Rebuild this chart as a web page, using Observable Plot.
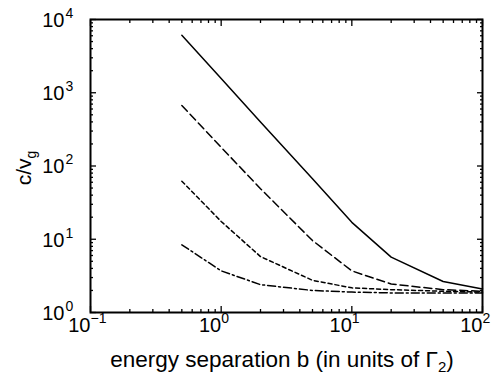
<!DOCTYPE html>
<html><head><meta charset="utf-8">
<script src="https://cdn.jsdelivr.net/npm/d3@7"></script>
<script src="https://cdn.jsdelivr.net/npm/@observablehq/plot@0.6"></script>
<style>body{margin:0;background:#fff} svg{display:block}</style>
</head><body><div id="chart"></div>
<script>
// energy separation b (units of Gamma_2)
const bValues = [0.5, 1, 2, 5, 10, 20, 50, 100];
// c / v_g for four cases
const solidSeries = [6100, 1570, 400, 67, 17, 5.7, 2.65, 2.1];
const longDashSeries = [670, 180, 49, 9.6, 3.7, 2.45, 2.05, 1.95];
const shortDashSeries = [62, 17.5, 5.8, 2.75, 2.17, 2.05, 1.95, 1.9];
const dashDotSeries = [8.4, 3.7, 2.4, 2.0, 1.9, 1.85, 1.85, 1.85];

// axis ticks and labels
const xMajor = [0.1, 1, 10, 100];
const xExp = ["\u22121", "0", "1", "2"];
const xMinor = [0.2,0.3,0.4,0.5,0.6,0.7,0.8,0.9, 2,3,4,5,6,7,8,9, 20,30,40,50,60,70,80,90];
const yMajor = [1, 10, 100, 1000, 10000];
const yExp = ["0", "1", "2", "3", "4"];
const yMinor = [2,3,4,5,6,7,8,9, 20,30,40,50,60,70,80,90, 200,300,400,500,600,700,800,900, 2000,3000,4000,5000,6000,7000,8000,9000];

const series = [
  {values: solidSeries, dash: null},
  {values: longDashSeries, dash: "8,4"},
  {values: shortDashSeries, dash: "4,3"},
  {values: dashDotSeries, dash: "8,3,2,3"}
];

const font = "'Liberation Sans', Arial, Helvetica, sans-serif";

const lineMarks = series.map(s => Plot.line(
  bValues.map((b, i) => ({b, v: s.values[i]})),
  {x: "b", y: "v", stroke: "black", strokeWidth: 1.5, strokeDasharray: s.dash}
));

const tickMarks = [
  ...["bottom", "top"].flatMap(anchor => [
    Plot.axisX(xMajor, {anchor, tickSize: -6, tickFormat: () => "", label: null, strokeWidth: 1.3}),
    Plot.axisX(xMinor, {anchor, tickSize: -3, tickFormat: () => "", label: null, strokeWidth: 1.3})
  ]),
  ...["left", "right"].flatMap(anchor => [
    Plot.axisY(yMajor, {anchor, tickSize: -6, tickFormat: () => "", label: null, strokeWidth: 1.3}),
    Plot.axisY(yMinor, {anchor, tickSize: -3, tickFormat: () => "", label: null, strokeWidth: 1.3})
  ])
];

const labelMarks = [
  Plot.text(xMajor, {x: d => d, text: () => "10", frameAnchor: "bottom", textAnchor: "end", dy: 19, fontSize: 20}),
  Plot.text(xMajor, {x: d => d, text: (d, i) => xExp[i], frameAnchor: "bottom", textAnchor: "start", dy: 10, fontSize: 14}),
  Plot.text(yMajor, {y: d => d, text: () => "10", frameAnchor: "left", textAnchor: "end", dx: -26, dy: 1, fontSize: 20}),
  Plot.text(yMajor, {y: d => d, text: (d, i) => yExp[i], frameAnchor: "left", textAnchor: "start", dx: -25, dy: -6, fontSize: 14})
];

const plot = Plot.plot({
  width: 502, height: 380,
  marginLeft: 90, marginRight: 20, marginTop: 19, marginBottom: 68,
  style: {fontFamily: font, background: "#fff", color: "black"},
  x: {type: "log", domain: [0.1, 100]},
  y: {type: "log", domain: [1, 10000]},
  marks: [
    ...lineMarks,
    ...tickMarks,
    ...labelMarks,
    Plot.frame({stroke: "black", strokeWidth: 2})
  ]
});

const svg = d3.select(plot);
// x axis title
const xt = svg.append("text")
  .attr("x", 282).attr("y", 367)
  .attr("text-anchor", "middle")
  .attr("font-family", font).attr("font-size", 22.5).attr("fill", "black");
xt.append("tspan").text("energy separation b (in units of \u0393");
xt.append("tspan").attr("dy", 5).attr("font-size", 15).text("2");
xt.append("tspan").attr("dy", -5).text(")");
// y axis title
const yt = svg.append("text")
  .attr("transform", "translate(31,168) rotate(-90)")
  .attr("text-anchor", "middle")
  .attr("font-family", font).attr("font-size", 21).attr("fill", "black");
yt.append("tspan").text("c/v");
yt.append("tspan").attr("dy", 5).attr("font-size", 14).text("g");

document.getElementById("chart").appendChild(plot);
</script>
</body></html>
